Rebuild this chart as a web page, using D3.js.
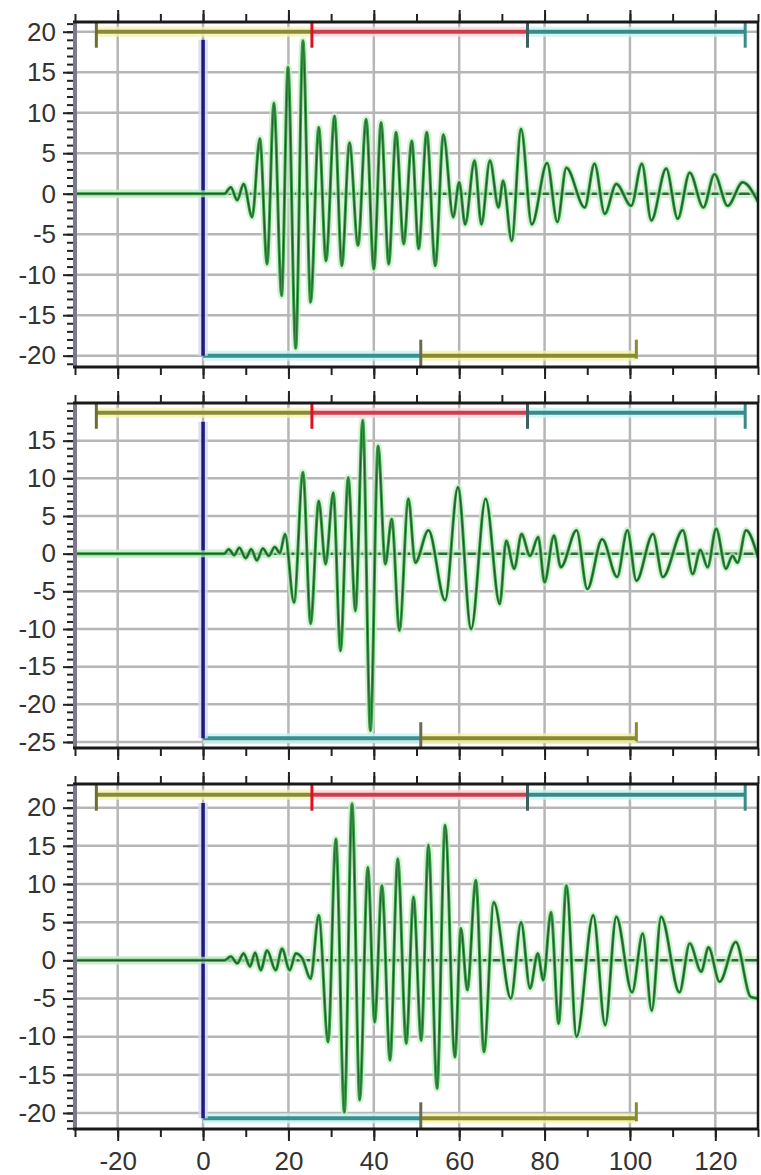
<!DOCTYPE html>
<html>
<head>
<meta charset="utf-8">
<script src="https://cdnjs.cloudflare.com/ajax/libs/d3/7.8.5/d3.min.js"></script>
<style>
    body { margin: 0; background: #fff; }
    #chart { width: 761px; height: 1175px; }
    .tick text { font-family: "Liberation Sans", Arial, sans-serif; font-size: 26px; fill: #333; }
</style>
</head>
<body>
<div id="chart"></div>
<script>

// time axis
const xDomain = [-30, 130];
const xTickValues = [-20, 0, 20, 40, 60, 80, 100, 120];
const xMinorTicks = [-30, -20, -10, 0, 10, 20, 30, 40, 50, 60, 70, 80, 90, 100, 110, 120, 130];

// window markers (time)
const topWindowEdges = [-25, 25.5, 76, 127];
const bottomWindowEdges = [0, 51, 101.5];

// per panel amplitude axes
const yDomains = [[-21.4, 21.2], [-25.8, 20], [-22.1, 23.1]];
const yTickValues = [
    [-20, -15, -10, -5, 0, 5, 10, 15, 20],
    [-25, -20, -15, -10, -5, 0, 5, 10, 15],
    [-20, -15, -10, -5, 0, 5, 10, 15, 20]
];
const topBarLevels = [20, 18.7, 21.7];
const bottomBarLevels = [-20, -24.5, -20.7];
const markerTops = [19, 17.5, 20.6];

// traces [time, amplitude], read at the turning points
const trace1 = [[-30,0],[5,0],[6.5,0.8],[8,-0.8],[9.5,1.2],[11.5,-2.9],[13.3,6.8],[15,-8.7],[16.6,11.2],[18.4,-12.6],
    [19.9,15.6],[21.7,-19.1],[23.4,18.9],[25.2,-13.4],[27.1,8.2],[28.8,-8.3],[30.8,9.6],[32.5,-8.9],[34.3,6.3],
    [36.3,-6.4],[38.2,9.2],[40,-9.3],[41.7,8.8],[43.5,-8.7],[45.2,7.6],[47,-6.2],[48.9,6.5],[50.5,-6.8],[52.4,7.6],
    [54.4,-8.9],[56.3,7.3],[58.6,-2.9],[60,1.4],[61.4,-3.8],[63.6,4.1],[65.2,-3.8],[67.2,4.1],[69.2,-1.7],[70.3,1.6],
    [72.3,-5.8],[74.5,8.0],[77,-3.8],[80.6,3.8],[83,-3.5],[85.1,3.2],[89.4,-1.7],[91.7,3.7],[94.1,-2.5],[96.8,1.2],
    [100.3,-1.5],[102.8,3.7],[105,-3.3],[108.5,3.1],[111.2,-3.1],[114,2.6],[117.2,-1.7],[119.8,2.4],[122.9,-1.5],
    [126.4,1.4],[130,-1]];

const trace2 = [[-30,0],[5,0],[6,0.6],[7.3,-0.2],[8.5,0.8],[10,-0.6],[11.3,0.6],[12.6,-0.9],[14,0.7],[15.4,-0.3],
    [16.8,0.9],[18,0.1],[19.2,2.6],[21.3,-6.5],[23.4,10.8],[25.2,-9.3],[27.1,7.0],[28.7,-1.4],[30.5,8.1],[32.2,-12.9],
    [34,10.1],[35.7,-7.6],[37.4,17.7],[39.2,-23.5],[41,14.3],[42.7,-1.4],[44.2,4.6],[46,-10.2],[48.1,7.3],[49.7,-1.2],
    [52.8,3.1],[56.7,-6.2],[59.7,8.8],[62.8,-10],[66.2,7.3],[69.5,-6.7],[71,1.7],[72.9,-2],[74.6,2.6],[76.6,-0.3],
    [78.5,2.2],[80,-3.8],[82.2,2.4],[83.8,-1.8],[87.5,3.1],[90,-4.7],[93.5,1.9],[97,-3.1],[99.4,3.1],[101.5,-3.6],
    [105.4,2.6],[107.7,-3.1],[112.4,3.1],[114.7,-2.7],[116.5,0.5],[118.2,-1.8],[120.2,3.3],[122.5,-2],[124,-0.3],
    [125.2,-1.2],[127.2,3.1],[130,-0.5]];

const trace3 = [[-30,0],[5,0],[6.5,0.5],[8,-0.4],[9.5,0.9],[11,-0.8],[12.2,1.0],[13.5,-1.3],[15,1.3],[17,-1.3],
    [18.5,1.5],[20.3,-1.3],[21.7,0.9],[23.2,0.3],[25.2,-2.4],[27.1,5.9],[29.3,-10.7],[31.1,15.9],[33.1,-19.9],
    [34.9,20.5],[36.7,-18.3],[38.6,12.2],[40.2,-8.1],[41.9,9.8],[43.8,-13.1],[45.6,13.3],[47.6,-10.9],[49.3,8.3],
    [51.1,-10.5],[52.8,15.1],[54.8,-16.8],[56.7,17.7],[59,-12.7],[60.4,4.2],[61.9,-3.9],[63.9,10.5],[65.8,-12],
    [68.1,7.6],[72.1,-5],[74.5,5.0],[76.6,-3.7],[78.4,0.9],[79.7,-2.6],[81.5,6.3],[83.3,-8.3],[85.1,9.8],[87.5,-10],
    [91.4,5.9],[94.2,-8.5],[96.8,5.7],[100.5,-4.2],[103,3.5],[105.1,-6.6],[107.3,5.7],[111.6,-4.2],[114,2.2],
    [116.7,-1.5],[118.4,1.7],[121,-2.8],[124.8,2.4],[128.3,-4.8],[130,-5]];

const traces = [trace1, trace2, trace3];

// draw a line with a soft light halo underneath
function glowLine(g, x1, y1, x2, y2, core, halo, w) {
    g.append("line")
        .attr("x1", x1).attr("y1", y1).attr("x2", x2).attr("y2", y2)
        .attr("stroke", halo).attr("stroke-width", w + 6).attr("opacity", 0.8);
    g.append("line")
        .attr("x1", x1).attr("y1", y1).attr("x2", x2).attr("y2", y2)
        .attr("stroke", core).attr("stroke-width", w);
}

class TraceVis {

    constructor(svg, index, traceData, showLabels) {
        this.svg = svg;
        this.index = index;
        this.traceData = traceData;
        this.showLabels = showLabels;

        this.initVis();
    }

    initVis() {
        let vis = this;

        vis.margin = {top: 22 + vis.index * 381, left: 75};
        vis.width = 683;
        vis.height = 345;

        vis.g = vis.svg.append("g")
            .attr("transform", `translate(${vis.margin.left}, ${vis.margin.top})`);

        vis.x = d3.scaleLinear().domain(xDomain).range([0, vis.width]);
        vis.y = d3.scaleLinear().domain(yDomains[vis.index]).range([vis.height, 0]);

        vis.g.append("clipPath").attr("id", "clip" + vis.index)
            .append("rect").attr("width", vis.width).attr("height", vis.height);

        // grid
        vis.g.selectAll(".hgrid")
            .data(yTickValues[vis.index])
            .enter().append("line")
            .attr("class", "hgrid")
            .attr("x1", 0).attr("x2", vis.width)
            .attr("y1", d => vis.y(d)).attr("y2", d => vis.y(d))
            .attr("stroke", "#b6b6b6").attr("stroke-width", 2.5);

        vis.g.selectAll(".vgrid")
            .data(xTickValues)
            .enter().append("line")
            .attr("class", "vgrid")
            .attr("x1", d => vis.x(d)).attr("x2", d => vis.x(d))
            .attr("y1", 0).attr("y2", vis.height)
            .attr("stroke", "#b6b6b6").attr("stroke-width", 2.5);

        vis.wrangleData();
    }

    wrangleData() {
        let vis = this;

        vis.topLevel = topBarLevels[vis.index];
        vis.bottomLevel = bottomBarLevels[vis.index];
        vis.markerTop = markerTops[vis.index];

        vis.topSegments = d3.pairs(topWindowEdges);
        vis.bottomSegments = d3.pairs(bottomWindowEdges);

        vis.updateVis();
    }

    updateVis() {
        let vis = this;

        let yTop = vis.y(vis.topLevel);
        let yBot = vis.y(vis.bottomLevel);

        // zero line
        glowLine(vis.g, 0, vis.y(0), vis.width, vis.y(0), "#2b6b3b", "#cfeccf", 2.5);

        // top windows
        let topCore = ["#8a8a3c", "#c8414f", "#3a8a8a"];
        let topHalo = ["#f4f4b0", "#ffd4da", "#c8f4f4"];
        vis.topSegments.forEach((s, i) => {
            glowLine(vis.g, vis.x(s[0]), yTop, vis.x(s[1]), yTop, topCore[i], topHalo[i], 4);
        });
        let topCaps = ["#6e6e2e", "#e01020", "#3f5f5f", "#3a8a8a"];
        topWindowEdges.forEach((e, i) => {
            vis.g.append("line")
                .attr("x1", vis.x(e)).attr("x2", vis.x(e))
                .attr("y1", 0).attr("y2", yTop + 16)
                .attr("stroke", topCaps[i]).attr("stroke-width", 3);
        });

        // bottom windows
        let botCore = ["#3a9090", "#8a8a30"];
        let botHalo = ["#c8f4f4", "#f4f4a8"];
        vis.bottomSegments.forEach((s, i) => {
            glowLine(vis.g, vis.x(s[0]), yBot, vis.x(s[1]), yBot, botCore[i], botHalo[i], 4);
        });
        let botCaps = ["#1c1c78", "#6a6a50", "#8a8a30"];
        bottomWindowEdges.slice(1).forEach((e, i) => {
            vis.g.append("line")
                .attr("x1", vis.x(e)).attr("x2", vis.x(e))
                .attr("y1", yBot - 16).attr("y2", i == 0 ? vis.height : yBot + 3)
                .attr("stroke", botCaps[i + 1]).attr("stroke-width", 3);
        });

        // origin marker
        glowLine(vis.g, vis.x(0), vis.y(vis.markerTop), vis.x(0), yBot, "#1c1c78", "#d4d8f4", 3.5);

        // trace
        vis.line = d3.line()
            .x(d => vis.x(d[0]))
            .y(d => vis.y(d[1]))
            .curve(d3.curveMonotoneX);

        let tg = vis.g.append("g").attr("clip-path", `url(#clip${vis.index})`);
        tg.append("path").datum(vis.traceData)
            .attr("d", vis.line).attr("fill", "none")
            .attr("stroke", "#c4f0c4").attr("stroke-width", 7).attr("opacity", 0.7);
        tg.append("path").datum(vis.traceData)
            .attr("d", vis.line).attr("fill", "none")
            .attr("stroke", "#3a9a48").attr("stroke-width", 3);
        tg.append("path").datum(vis.traceData)
            .attr("d", vis.line).attr("fill", "none")
            .attr("stroke", "#1d5a2a").attr("stroke-width", 1.2);

        // axes
        let noLabel = () => "";
        vis.drawAxis(d3.axisTop(vis.x).tickValues(xMinorTicks).tickSize(8).tickFormat(noLabel), 0);
        vis.drawAxis(d3.axisTop(vis.x).tickValues(xTickValues).tickSize(12).tickFormat(noLabel), 0);
        vis.drawAxis(d3.axisBottom(vis.x).tickValues(xMinorTicks).tickSize(8).tickFormat(noLabel), vis.height);
        vis.drawAxis(d3.axisBottom(vis.x).tickValues(xTickValues).tickSize(12).tickPadding(11)
            .tickFormat(vis.showLabels ? (d => String(d)) : noLabel), vis.height);

        let yMinor = d3.range(Math.ceil(vis.y.domain()[0]), Math.floor(vis.y.domain()[1]) + 1);
        vis.drawAxis(d3.axisLeft(vis.y).tickValues(yMinor).tickSize(8).tickFormat(noLabel), 0, true);
        vis.drawAxis(d3.axisLeft(vis.y).tickValues(yTickValues[vis.index]).tickSize(12).tickPadding(7)
            .tickFormat(d => String(d)), 0, true);

        // frame
        vis.g.append("line").attr("x1", 0).attr("x2", 0).attr("y1", 0).attr("y2", vis.height)
            .attr("stroke", "#7a7a88").attr("stroke-width", 4);
        vis.g.append("line").attr("x1", -2).attr("x2", vis.width + 1).attr("y1", 0).attr("y2", 0)
            .attr("stroke", "#1a1a1a").attr("stroke-width", 3);
        vis.g.append("line").attr("x1", -2).attr("x2", vis.width + 1).attr("y1", vis.height).attr("y2", vis.height)
            .attr("stroke", "#1a1a1a").attr("stroke-width", 3);
        vis.g.append("line").attr("x1", vis.width).attr("x2", vis.width).attr("y1", 0).attr("y2", vis.height)
            .attr("stroke", "#1a1a1a").attr("stroke-width", 2.5);
    }

    drawAxis(axis, offset, vertical) {
        let vis = this;
        let a = vis.g.append("g")
            .attr("transform", vertical ? "translate(0,0)" : `translate(0, ${offset})`)
            .call(axis.tickSizeOuter(0));
        a.select(".domain").remove();
        a.selectAll(".tick line").attr("stroke", "#222").attr("stroke-width", 2);
        a.selectAll(".tick text").attr("font-size", null).attr("font-family", null);
    }
}

let svg = d3.select("#chart").append("svg")
    .attr("width", 761)
    .attr("height", 1175);

svg.append("rect").attr("width", 761).attr("height", 1175).attr("fill", "#fff");

traces.forEach((t, i) => new TraceVis(svg, i, t, i == traces.length - 1));

</script>
</body>
</html>
